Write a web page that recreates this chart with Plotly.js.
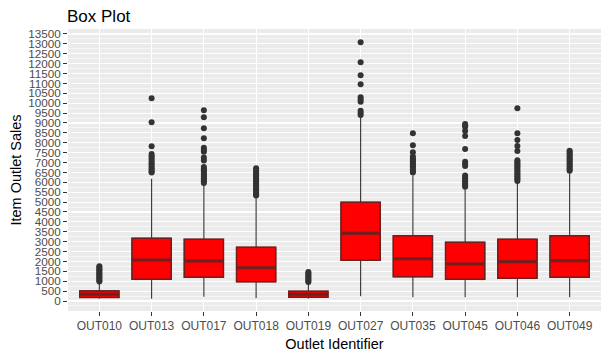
<!DOCTYPE html>
<html>
<head>
<meta charset="utf-8">
<script src="https://cdn.plot.ly/plotly-3.0.1.min.js"></script>
<style>html,body{margin:0;padding:0;background:#fff;}#chart{width:609px;height:356px;}</style>
</head>
<body>
<div id="chart"></div>
<script>
const categories = ['OUT010','OUT013','OUT017','OUT018','OUT019','OUT027','OUT035','OUT045','OUT046','OUT049'];
const q1Values     = [175, 1097, 1198,  976, 190, 2057, 1229, 1097, 1148, 1198];
const medianValues = [340, 2073, 2022, 1684, 340, 3423, 2139, 1871, 1987, 2038];
const q3Values     = [510, 3170, 3119, 2715, 490, 4990, 3302, 2968, 3119, 3302];
const lowerFences  = [120,  120,  220,  140, 110,  240,  190,  190,  190,  190];
const upperFences  = [900, 6180, 5900, 5200, 900, 9300, 6350, 5650, 5950, 6450];
const yTicks = [0,500,1000,1500,2000,2500,3000,3500,4000,4500,5000,5500,6000,6500,7000,7500,8000,8500,9000,9500,10000,10500,11000,11500,12000,12500,13000,13500];

const outliersOUT010 = [980, 1050, 1120, 1190, 1260, 1330, 1400, 1470, 1540, 1610, 1680, 1760];
const outliersOUT013 = [6490, 6550, 6620, 6700, 6780, 6870, 6950, 7040, 7150, 7250, 7330, 7430, 7822, 9035, 10248];
const outliersOUT017 = [5970, 6050, 6130, 6210, 6290, 6370, 6450, 6530, 6610, 6690, 6780, 7100, 7250, 7550, 7650, 7750, 8226, 8732, 9288, 9641];
const outliersOUT018 = [5330, 5400, 5480, 5560, 5640, 5720, 5800, 5880, 5960, 6040, 6120, 6200, 6280, 6360, 6440, 6520, 6600, 6710];
const outliersOUT019 = [960, 1030, 1100, 1170, 1250, 1320, 1400, 1470];
const outliersOUT027 = [9400, 9500, 9620, 10070, 10180, 10300, 10956, 11411, 12069, 13080];
const outliersOUT035 = [6490, 6570, 6650, 6730, 6810, 6890, 6970, 7050, 7130, 7210, 7300, 7520, 7870, 8479];
const outliersOUT045 = [5770, 5850, 5930, 6010, 6090, 6170, 6250, 6350, 6820, 6930, 7040, 7685, 8343, 8595, 8810, 8880, 8950];
const outliersOUT046 = [6070, 6150, 6230, 6310, 6390, 6470, 6550, 6630, 6720, 6800, 6880, 6960, 7040, 7114, 7584, 7837, 8140, 8479, 9743];
const outliersOUT049 = [6580, 6660, 6740, 6820, 6900, 6980, 7060, 7140, 7220, 7300, 7380, 7460, 7540, 7600];

const outlierLists = [outliersOUT010, outliersOUT013, outliersOUT017, outliersOUT018, outliersOUT019,
                      outliersOUT027, outliersOUT035, outliersOUT045, outliersOUT046, outliersOUT049];

const boxColor = '#701E1E';
const common = {type:'box', x: categories, width: 0.75, whiskerwidth: 0, boxpoints: false, hoverinfo: 'skip', showlegend: false};

// whiskers (grey)
const whiskerTrace = Object.assign({}, common, {
  q1: q1Values, median: medianValues, q3: q3Values,
  lowerfence: lowerFences, upperfence: upperFences,
  line: {color: '#333333', width: 1.1}, fillcolor: 'rgba(0,0,0,0)'
});
// box body
const bodyTrace = Object.assign({}, common, {
  q1: q1Values, median: medianValues, q3: q3Values,
  lowerfence: q1Values, upperfence: q3Values,
  line: {color: boxColor, width: 1.5}, fillcolor: '#FF0000'
});
// thick median
const medianTrace = Object.assign({}, common, {
  q1: medianValues, median: medianValues, q3: medianValues,
  lowerfence: medianValues, upperfence: medianValues,
  line: {color: boxColor, width: 3}, fillcolor: 'rgba(0,0,0,0)'
});

const outX = [], outY = [];
outlierLists.forEach((list, i) => list.forEach(v => { outX.push(categories[i]); outY.push(v); }));
const outlierTrace = {
  type: 'scatter', mode: 'markers', x: outX, y: outY,
  marker: {color: '#333333', size: 6}, hoverinfo: 'skip', showlegend: false
};

const layout = {
  width: 609, height: 356,
  margin: {l: 68, r: 8, t: 29, b: 45, pad: 0},
  paper_bgcolor: '#FFFFFF', plot_bgcolor: '#EBEBEB',
  font: {family: '"Liberation Sans", Arial, sans-serif', color: '#000000'},
  showlegend: false, boxmode: 'overlay',
  title: {text: 'Box Plot', x: 67/609, xref: 'container', xanchor: 'left',
          y: 1 - 16/356, yref: 'container', yanchor: 'middle',
          font: {size: 17, color: '#000000'}},
  xaxis: {
    type: 'category', categoryorder: 'array', categoryarray: categories,
    range: [-0.6, 9.6], showgrid: true, gridcolor: '#FFFFFF', gridwidth: 1.1,
    zeroline: false, showline: false,
    ticks: 'outside', ticklen: 4, tickwidth: 1, tickcolor: '#333333',
    tickfont: {size: 12, color: '#4D4D4D'},
    title: {text: 'Outlet Identifier', font: {size: 14.5, color: '#000000'}, standoff: 6}
  },
  yaxis: {
    range: [-505, 13750], tickmode: 'array', tickvals: yTicks, ticktext: yTicks.map(String),
    showgrid: true, gridcolor: '#FFFFFF', gridwidth: 1.1,
    minor: {tickmode: 'linear', tick0: 250, dtick: 500, showgrid: true, gridcolor: '#FFFFFF', gridwidth: 0.55, ticks: ''},
    zeroline: false, showline: false,
    ticks: 'outside', ticklen: 4, tickwidth: 1, tickcolor: '#333333',
    tickfont: {size: 11.7, color: '#4D4D4D'},
    title: {text: 'Item Outlet Sales', font: {size: 14.5, color: '#000000'}, standoff: 3}
  }
};

Plotly.newPlot('chart', [whiskerTrace, bodyTrace, medianTrace, outlierTrace], layout, {displayModeBar: false, staticPlot: true});
</script>
</body>
</html>
